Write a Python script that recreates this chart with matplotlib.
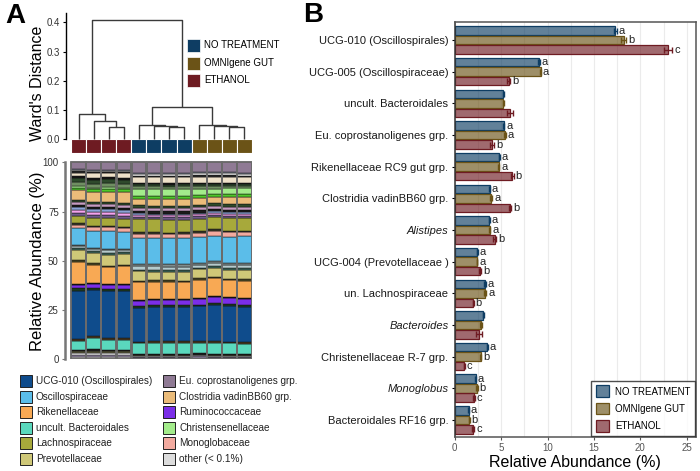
import numpy as np
import matplotlib
matplotlib.use('Agg')
import matplotlib.pyplot as plt
from matplotlib.patches import Rectangle
from matplotlib.colors import to_rgba

plt.rcParams['font.family'] = ['Liberation Sans', 'DejaVu Sans']

W, H = 700, 471

# ---------------------------------------------------------------
# Data
# ---------------------------------------------------------------
group_names = ['NO TREATMENT', 'OMNIgene GUT', 'ETHANOL']

# leaf order of the dendrogram (0 = NT, 1 = OMNI, 2 = ETHANOL)
leaf_groups = [2, 2, 2, 2, 0, 0, 0, 0, 1, 1, 1, 1]
# merges: (left node, right node, Ward distance); new nodes are numbered from 12
merges = [(2, 3, 0.041), (1, 12, 0.064), (0, 13, 0.085),
          (6, 7, 0.041), (5, 15, 0.046), (4, 16, 0.048),
          (10, 11, 0.042), (9, 18, 0.046), (8, 19, 0.049),
          (17, 20, 0.109), (14, 21, 0.408)]

# stacked composition per sample (%), bottom -> top
# samples: E1-E4 (ethanol), N1-N4 (no treatment), O1-O4 (OMNIgene)
minor01 = [1.2, 1.2, 1.0, 1.0, 0.8, 0.8, 0.8, 0.8, 0.8, 0.7, 0.8, 0.8]
minor02 = [1.0, 1.2, 1.1, 1.0, 0.6, 0.5, 0.6, 0.6, 0.6, 0.6, 0.5, 0.6]
minor03 = [0.8, 0.8, 1.0, 0.9, 0.5, 0.5, 0.5, 0.5, 0.5, 0.5, 0.5, 0.5]
minor04 = [1.0, 1.2, 1.0, 1.0, 0.3, 0.4, 0.3, 0.3, 0.4, 0.3, 0.4, 0.3]
minor05 = [0.7, 0.6, 0.6, 0.7, 0.4, 0.5, 0.4, 0.5, 0.6, 0.5, 0.5, 0.6]
uncult_bacteroidales = [4.6, 5.9, 5.1, 5.2, 5.4, 5.6, 5.5, 5.6, 5.3, 5.5, 5.4, 5.2]
minor06 = [0.8, 0.7, 0.8, 0.8, 0.9, 1.0, 0.9, 1.0, 0.9, 1.0, 0.9, 1.0]
ucg010 = [24.5, 23.7, 23.2, 23.2, 17.0, 16.9, 17.3, 16.9, 17.4, 18.6, 17.9, 17.8]
minor07 = [1.2, 1.0, 1.0, 1.1, 0.8, 0.9, 0.9, 0.8, 0.8, 0.8, 0.9, 0.8]
ruminococcaceae = [2.0, 1.9, 2.0, 2.0, 2.7, 2.5, 2.6, 2.6, 2.9, 3.4, 3.2, 3.4]
minor08 = [0.5, 0.5, 0.5, 0.5, 0.6, 0.7, 0.6, 0.6, 0.4, 0.4, 0.4, 0.4]
rikenellaceae = [11.0, 9.4, 8.2, 9.0, 8.8, 8.5, 8.3, 8.4, 9.0, 9.0, 8.6, 9.0]
minor09 = [0.8, 0.8, 0.8, 0.7, 0.8, 0.8, 0.8, 0.8, 0.8, 0.8, 0.8, 0.8]
prevotellaceae = [5.4, 5.0, 5.6, 5.4, 4.6, 4.4, 4.3, 4.4, 4.4, 4.6, 4.5, 4.8]
minor10 = [1.0, 1.1, 1.0, 1.0, 0.8, 0.8, 0.9, 0.8, 0.8, 0.9, 0.8, 0.9]
minor11 = [0.8, 0.9, 1.2, 1.0, 1.8, 1.8, 1.7, 1.8, 1.6, 1.5, 1.6, 1.5]
minor12 = [0.4, 0.4, 0.6, 0.5, 1.2, 1.2, 1.2, 1.2, 1.0, 1.0, 1.0, 1.0]
oscillospiraceae = [8.5, 9.0, 8.8, 8.5, 13.2, 13.2, 13.0, 13.2, 12.8, 13.0, 13.4, 13.6]
monoglobaceae = [1.7, 1.7, 1.8, 1.7, 2.0, 2.0, 2.0, 2.0, 2.1, 2.4, 2.2, 2.2]
minor13 = [0.8, 0.7, 0.8, 0.8, 0.8, 0.8, 0.8, 0.8, 0.8, 0.8, 0.8, 0.8]
lachnospiraceae = [3.9, 4.2, 4.0, 3.9, 6.3, 6.4, 6.4, 6.3, 6.2, 6.3, 6.4, 6.5]
minor14 = [1.4, 1.4, 1.5, 1.4, 1.2, 1.1, 1.2, 1.1, 1.1, 1.2, 1.1, 1.2]
minor15 = [1.4, 1.5, 1.4, 1.5, 1.0, 1.0, 1.0, 1.0, 1.0, 1.0, 1.1, 1.0]
minor16 = [1.6, 1.4, 1.6, 1.7, 0.8, 0.8, 0.8, 0.8, 0.8, 0.8, 0.8, 0.8]
minor17 = [1.0, 1.0, 1.0, 1.0, 1.3, 1.3, 1.3, 1.3, 1.3, 1.3, 1.3, 1.3]
minor18 = [1.5, 1.5, 1.5, 1.5, 1.5, 1.5, 1.5, 1.5, 1.5, 1.5, 1.5, 1.5]
minor19 = [1.0, 1.0, 1.0, 1.0, 1.2, 1.2, 1.2, 1.2, 1.2, 1.2, 1.2, 1.2]
clostridia_vadin = [5.0, 5.2, 5.0, 5.2, 3.4, 3.4, 3.4, 3.5, 3.6, 3.4, 3.8, 3.9]
minor20 = [1.2, 1.3, 1.3, 1.3, 1.3, 1.3, 1.3, 1.3, 1.3, 1.3, 1.2, 1.2]
christensenellaceae = [0.8, 0.8, 0.8, 0.8, 3.7, 3.7, 3.7, 3.6, 3.2, 2.9, 3.1, 3.0]
minor21 = [2.2, 2.0, 2.2, 2.0, 1.2, 1.2, 1.2, 1.2, 1.2, 1.2, 1.2, 1.2]
minor22 = [2.0, 2.0, 2.0, 2.0, 1.0, 1.0, 1.0, 1.0, 1.0, 1.0, 1.0, 1.0]
minor23 = [0.8, 0.8, 0.8, 0.8, 0.6, 0.6, 0.6, 0.6, 0.6, 0.6, 0.6, 0.6]
minor24 = [1.7, 2.6, 2.0, 2.4, 3.0, 3.0, 3.0, 3.0, 3.0, 3.1, 3.0, 3.0]
minor25 = [0.8, 0.8, 0.8, 0.8, 0.8, 0.8, 0.8, 0.8, 0.8, 0.8, 0.8, 0.8]
minor26 = [0.5, 0.5, 0.5, 0.5, 1.0, 1.0, 1.0, 1.0, 1.0, 1.0, 1.0, 1.0]
minor27 = [0.5, 0.5, 0.5, 0.5, 0.5, 0.5, 0.5, 0.5, 0.5, 0.5, 0.5, 0.5]
eu_coprostanoligenes = [3.6, 3.8, 3.6, 3.7, 5.2, 5.2, 5.2, 5.2, 5.0, 5.2, 5.1, 5.3]

# panel B: mean relative abundance (%) and error
taxa_b = ['UCG-010 (Oscillospirales)', 'UCG-005 (Oscillospiraceae)',
          'uncult. Bacteroidales', 'Eu. coprostanoligenes grp.',
          'Rikenellaceae RC9 gut grp.', 'Clostridia vadinBB60 grp.',
          'Alistipes', 'UCG-004 (Prevotellaceae )', 'un. Lachnospiraceae',
          'Bacteroides', 'Christenellaceae R-7 grp.', 'Monoglobus',
          'Bacteroidales RF16 grp.']
italic_taxa = ['Alistipes', 'Bacteroides', 'Monoglobus']
nt_mean = [17.3, 9.1, 5.25, 5.3, 4.8, 3.75, 3.7, 2.45, 3.25, 3.1, 3.5, 2.25, 1.5]
omni_mean = [18.2, 9.25, 5.25, 5.4, 4.75, 3.95, 3.75, 2.4, 3.3, 2.85, 2.8, 2.4, 1.55]
etoh_mean = [23.0, 5.8, 5.95, 4.0, 6.2, 5.95, 4.3, 2.75, 2.0, 2.6, 1.05, 2.1, 2.0]
nt_err = [0.15, 0.1, 0.05, 0.05, 0.05, 0.05, 0.05, 0.05, 0.1, 0.05, 0.05, 0.05, 0.05]
omni_err = [0.3, 0.05, 0.05, 0.1, 0.05, 0.1, 0.1, 0.05, 0.1, 0.1, 0.05, 0.1, 0.05]
etoh_err = [0.45, 0.2, 0.3, 0.25, 0.15, 0.15, 0.15, 0.1, 0.05, 0.35, 0.05, 0.1, 0.1]
nt_letters = ['a', 'a', '', 'a', 'a', 'a', 'a', 'a', 'a', '', 'a', 'a', 'a']
omni_letters = ['b', 'a', '', 'a', 'a', 'a', 'a', 'a', 'a', '', 'b', 'b', 'b']
etoh_letters = ['c', 'b', '', 'b', 'b', 'b', 'b', 'b', 'b', '', 'c', 'c', 'c']

# ---------------------------------------------------------------
# Styles
# ---------------------------------------------------------------
group_colors = ['#0e3d63', '#6b5317', '#6e1b22']

named_taxa = ['UCG-010 (Oscillospirales)', 'Oscillospiraceae', 'Rikenellaceae',
              'uncult. Bacteroidales', 'Lachnospiraceae', 'Prevotellaceae',
              'Eu. coprostanoligenes grp.', 'Clostridia vadinBB60 grp.',
              'Ruminococcaceae', 'Christensenellaceae', 'Monoglobaceae',
              'other (< 0.1%)']
named_colors = ['#0f4c8c', '#5bbde9', '#f8a954', '#5ad8bd', '#a7a93b', '#cfc878',
                '#8f7a94', '#ebbc7a', '#7b2ee8', '#a3ec8b', '#f2aa9f', '#dcdcdc']

layers = [
    (minor01, '#dcdcdc'), (minor02, '#9b8fae'), (minor03, '#f2f2f2'),
    (minor04, '#5a5a3c'), (minor05, '#1e1e1e'),
    (uncult_bacteroidales, '#5ad8bd'), (minor06, '#4a3b22'),
    (ucg010, '#0f4c8c'), (minor07, '#1c3a20'),
    (ruminococcaceae, '#7b2ee8'), (minor08, '#111111'),
    (rikenellaceae, '#f8a954'), (minor09, '#4e4a24'),
    (prevotellaceae, '#cfc878'), (minor10, '#3f6b5e'),
    (minor11, '#b5cbcc'), (minor12, '#7f8c8d'),
    (oscillospiraceae, '#5bbde9'), (monoglobaceae, '#f2aa9f'),
    (minor13, '#3a3a2a'), (lachnospiraceae, '#a7a93b'),
    (minor14, '#6e5a8a'), (minor15, '#f4a3ee'), (minor16, '#8aa2d6'),
    (minor17, '#1a1a1a'), (minor18, '#c59bc0'), (minor19, '#2f4a2a'),
    (clostridia_vadin, '#ebbc7a'), (minor20, '#4fc72a'),
    (christensenellaceae, '#a3ec8b'), (minor21, '#6f8f62'),
    (minor22, '#2e4a2c'), (minor23, '#151515'),
    (minor24, '#eee1c9'), (minor25, '#2a2a2a'),
    (minor26, '#f7f7f7'), (minor27, '#a9b4c8'),
    (eu_coprostanoligenes, '#8f7a94'),
]

fig = plt.figure(figsize=(7.0, 4.71), dpi=100)


def fx(px):
    return px / W


def fy(py):
    return 1 - py / H


def add_axes_px(left, top, right, bottom):
    return fig.add_axes([fx(left), fy(bottom), (right - left) / W, (bottom - top) / H])


# ---------------------------------------------------------------
# Panel A: dendrogram
# ---------------------------------------------------------------
ax_d = add_axes_px(66, 13.5, 252, 153)
n_leaf = len(leaf_groups)
node_x = [i + 0.5 for i in range(n_leaf)]
node_h = [0.0] * n_leaf
for left, right, h in merges:
    xl, xr = node_x[left], node_x[right]
    ax_d.plot([xl, xl, xr, xr], [node_h[left], h, h, node_h[right]],
              color='#3a3a3a', lw=1.0, solid_capstyle='butt')
    node_x.append((xl + xr) / 2)
    node_h.append(h)

for i, g in enumerate(leaf_groups):
    ax_d.add_patch(Rectangle((i, -0.047), 1, 0.047, facecolor=group_colors[g],
                             edgecolor='white', lw=0.8))

ax_d.set_xlim(-0.33, 12)
ax_d.set_ylim(-0.047, 0.43)
for s in ['top', 'right', 'bottom']:
    ax_d.spines[s].set_visible(False)
ax_d.spines['left'].set_bounds(0, 0.43)
ax_d.spines['left'].set_linewidth(1.0)
ax_d.set_xticks([])
ax_d.set_yticks([0, 0.1, 0.2, 0.3, 0.4])
ax_d.set_yticklabels(['0.0', '0.1', '0.2', '0.3', '0.4'])
ax_d.tick_params(axis='y', labelsize=7, length=2.5, width=0.8, pad=2, labelcolor='#333333')
ax_d.set_ylabel("Ward's Distance", fontsize=11.5)
ax_d.yaxis.set_label_coords(-0.113, 0.5)

# group legend (top)
for k, (name, c) in enumerate(zip(group_names, group_colors)):
    yc = [45, 63, 80][k]
    fig.patches.append(Rectangle((fx(187), fy(yc + 6.5)), 13 / W, 13 / H,
                                 transform=fig.transFigure, facecolor=c,
                                 edgecolor='white', lw=0.5))
    fig.text(fx(204), fy(yc), name, fontsize=7, va='center', ha='left')

# ---------------------------------------------------------------
# Panel A: stacked bars
# ---------------------------------------------------------------
ax_s = add_axes_px(65, 160, 252, 359.3)
x_pos = np.arange(n_leaf) + 0.5
bottom = np.zeros(n_leaf)
totals = np.sum([np.array(v) for v, _ in layers], axis=0)
for vals, c in layers:
    v = np.array(vals) / totals * 100
    ax_s.bar(x_pos, v, bottom=bottom, width=0.97, color=c, edgecolor='#111111', lw=0.35)
    bottom += v
ax_s.bar(x_pos, bottom, width=0.97, facecolor='none', edgecolor='#6b6b6b', lw=1.3)

ax_s.set_xlim(-0.4, 12)
ax_s.set_ylim(0, 100 * (199.3 / 197.0))
for s in ['top', 'right', 'bottom']:
    ax_s.spines[s].set_visible(False)
ax_s.spines['left'].set_bounds(0, 100)
ax_s.spines['left'].set_color('#777777')
ax_s.spines['left'].set_linewidth(1.8)
ax_s.set_xticks([])
ax_s.set_yticks([0, 25, 50, 75, 100])
ax_s.tick_params(axis='y', labelsize=7, length=2.5, width=0.8, color='#777777',
                 pad=2, labelcolor='#333333')
ax_s.set_ylabel('Relative Abundance (%)', fontsize=12)
ax_s.yaxis.set_label_coords(-0.107, 0.49)

# taxa legend (bottom)
rows_y = [381.3, 396.7, 412.3, 428.3, 443.3, 459]
for k, (name, c) in enumerate(zip(named_taxa, named_colors)):
    col, row = divmod(k, 6)
    sq_x = [20, 163][col]
    yc = rows_y[row]
    fig.patches.append(Rectangle((fx(sq_x), fy(yc + 6)), 12 / W, 12 / H,
                                 transform=fig.transFigure, facecolor=c,
                                 edgecolor='#222222', lw=0.7))
    fig.text(fx(sq_x + 16), fy(yc), name, fontsize=7.2, va='center', ha='left',
             color='#222222')

# ---------------------------------------------------------------
# Panel B: horizontal bars
# ---------------------------------------------------------------
ax_b = add_axes_px(454.7, 22, 696, 437)
y = np.arange(len(taxa_b))
offsets = [-0.3, 0.0, 0.3]
means = [nt_mean, omni_mean, etoh_mean]
errs = [nt_err, omni_err, etoh_err]
letters = [nt_letters, omni_letters, etoh_letters]

ax_b.set_axisbelow(True)
for xv in np.arange(0, 26.1, 2.5):
    ax_b.axvline(xv, color='#ebebeb', lw=0.8, zorder=0)

for g in range(3):
    c = group_colors[g]
    ax_b.barh(y + offsets[g], means[g], height=0.27, color=to_rgba(c, 0.65),
              edgecolor=c, lw=0.9, label=group_names[g], zorder=2)
    ax_b.errorbar(means[g], y + offsets[g], xerr=errs[g], fmt='none', ecolor=c,
                  elinewidth=1.0, capsize=2, capthick=1.0, zorder=3)
    for i in range(len(taxa_b)):
        if letters[g][i]:
            ax_b.text(means[g][i] + errs[g][i] + 0.2, y[i] + offsets[g], letters[g][i],
                      fontsize=8, va='center', ha='left', color='#222222')

ax_b.set_xlim(0, 26)
ax_b.set_ylim(12.54, -0.57)
ax_b.set_yticks(y)
ax_b.set_yticklabels(taxa_b)
for lab in ax_b.get_yticklabels():
    if lab.get_text() in italic_taxa:
        lab.set_style('italic')
ax_b.set_xticks([0, 5, 10, 15, 20, 25])
ax_b.tick_params(axis='y', labelsize=8, length=2.5, width=0.8, pad=2, labelcolor='#1a1a1a')
ax_b.tick_params(axis='x', labelsize=7, length=2.5, width=0.8, pad=1.5,
                 labelcolor='#555555', color='#555555')
for s in ax_b.spines.values():
    s.set_color('#555555')
    s.set_linewidth(1.1)
ax_b.spines['left'].set_color('#333333')
ax_b.set_xlabel('Relative Abundance (%)', fontsize=11.5, labelpad=2)

leg = ax_b.legend(loc='lower right', fontsize=7, frameon=True, fancybox=False,
                  handlelength=1.4, handleheight=1.5, borderpad=0.45, labelspacing=0.55,
                  handletextpad=0.6, borderaxespad=0.1)
leg.get_frame().set_edgecolor('#222222')
leg.get_frame().set_linewidth(1.0)

# panel letters
fig.text(fx(5), fy(3), 'A', fontsize=20, fontweight='bold', va='top', ha='left')
fig.text(fx(303), fy(2), 'B', fontsize=20, fontweight='bold', va='top', ha='left')

fig.savefig('out.png', dpi=100)
